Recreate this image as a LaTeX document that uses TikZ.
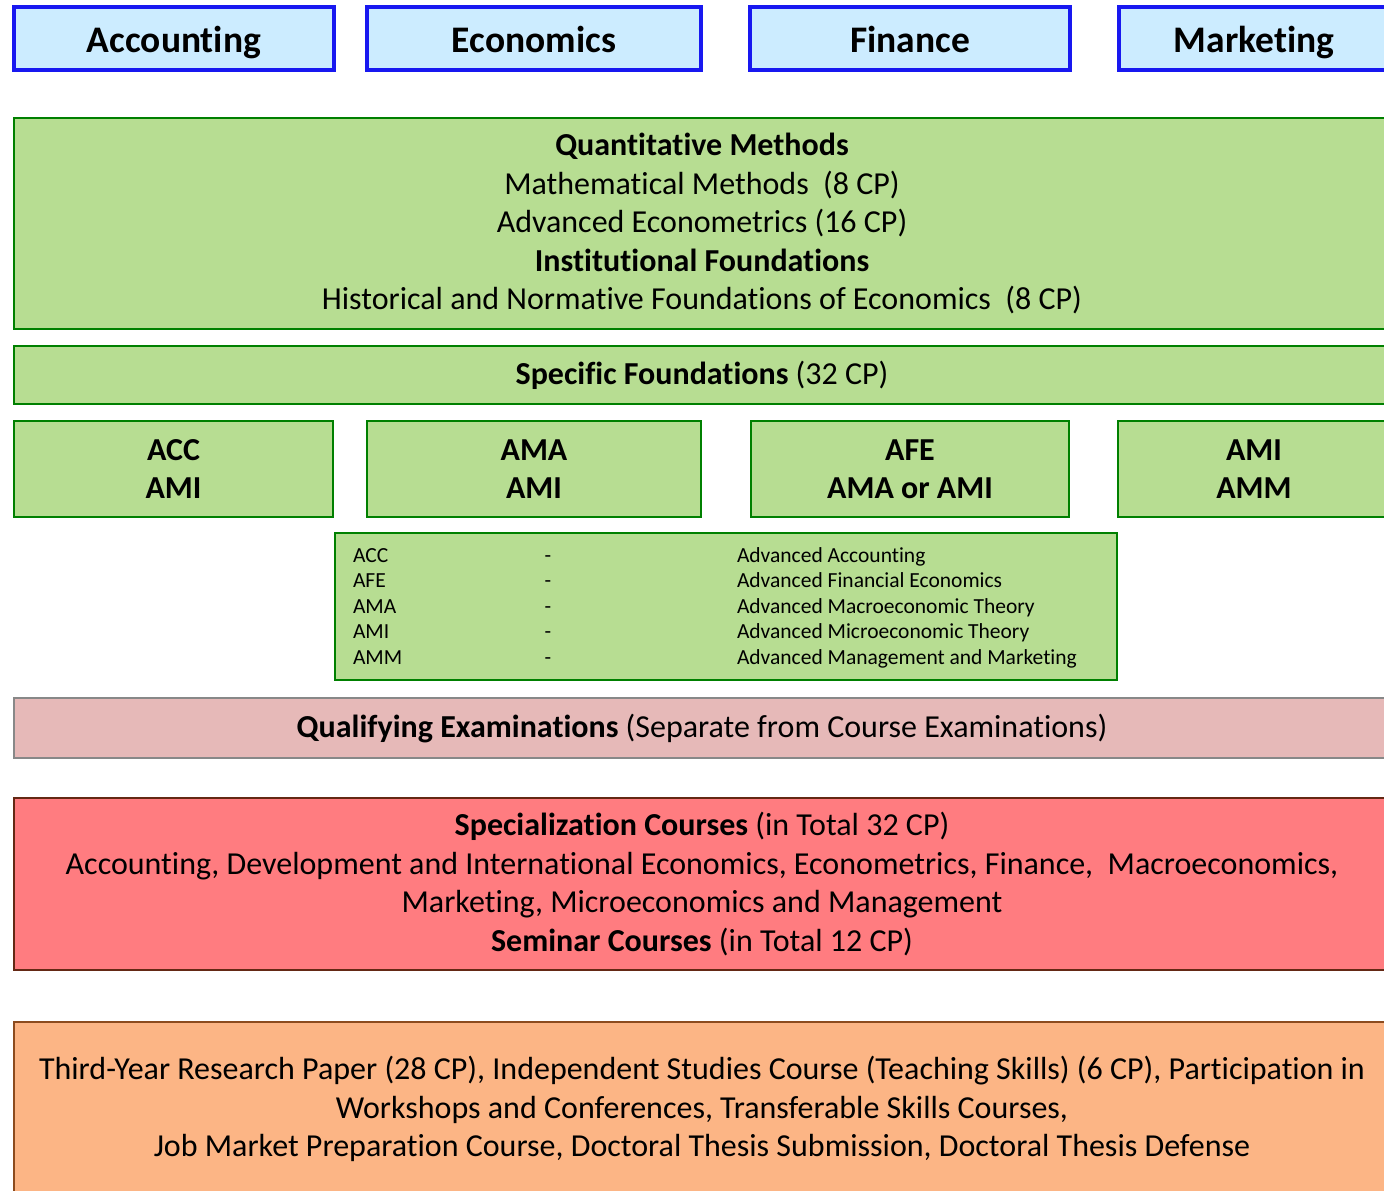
\documentclass[tikz,border=0pt]{standalone}
\usepackage{fontspec}
\setmainfont{Carlito}[Ligatures={NoCommon}]
\definecolor{topfill}{RGB}{204,236,255}
\definecolor{topline}{RGB}{24,24,240}
\definecolor{gfill}{RGB}{183,221,146}
\definecolor{gline}{RGB}{0,128,0}
\definecolor{pfill}{RGB}{230,185,184}
\definecolor{pline}{RGB}{136,136,136}
\definecolor{rfill}{RGB}{255,124,128}
\definecolor{rline}{RGB}{100,40,20}
\definecolor{ofill}{RGB}{252,181,133}
\definecolor{oline}{RGB}{140,75,30}
\begin{document}
\begin{tikzpicture}[x=1pt,y=-1pt,
  box/.style={draw, rectangle, inner sep=0pt, outer sep=0pt, align=center},
  topbox/.style={box, fill=topfill, draw=topline, line width=4pt, minimum height=63pt,
    text height=33.75pt, text depth=6.75pt,
    font=\fontsize{37.5}{42}\selectfont\bfseries},
  gbox/.style={box, fill=gfill, draw=gline, line width=1.6pt,
    font=\fontsize{32}{38.5}\selectfont},
  gsmall/.style={gbox, minimum height=96pt, font=\fontsize{32}{38}\selectfont\bfseries},
  pbox/.style={box, fill=pfill, draw=pline, line width=2.6pt, font=\fontsize{32}{38.5}\selectfont},
  rbox/.style={box, fill=rfill, draw=rline, line width=1.6pt, font=\fontsize{32}{38.5}\selectfont},
  obox/.style={box, fill=ofill, draw=oline, line width=1.6pt, font=\fontsize{32}{38.5}\selectfont},
  tabtext/.style={inner sep=0pt, outer sep=0pt, anchor=base west, font=\fontsize{21.5}{25}\selectfont},
  tabdash/.style={inner sep=0pt, outer sep=0pt, anchor=base, font=\fontsize{21.5}{25}\selectfont}
]
\useasboundingbox (0,0) rectangle (1384,1191);
\clip (0,0) rectangle (1384,1191);

% top department boxes
\node[topbox, minimum width=320pt] (acc) at (174,38.5) {Accounting};
\node[topbox, minimum width=334pt] (eco) at (534,38.5) {Economics};
\node[topbox, minimum width=320pt] (fin) at (910,38.5) {Finance};
\node[topbox, minimum width=270pt] (mkt) at (1254,38.5) {Marketing};

% quantitative / institutional foundations
\node[gbox, minimum width=1376pt, minimum height=211pt] (found) at (702,223.5)
  {\textbf{Quantitative Methods}\\
   Mathematical Methods~~(8 CP)\\
   Advanced Econometrics (16 CP)\\
   \textbf{Institutional Foundations}\\
   Historical and Normative Foundations of Economics~~(8 CP)};

% specific foundations
\node[gbox, minimum width=1376pt, minimum height=58pt] (spec) at (702,375)
  {\textbf{Specific Foundations} (32 CP)};

\node[gsmall, minimum width=319pt] (s1) at (173.5,469) {ACC\\AMI};
\node[gsmall, minimum width=334pt] (s2) at (534,469) {AMA\\AMI};
\node[gsmall, minimum width=318pt] (s3) at (910,469) {AFE\\AMA or AMI};
\node[gsmall, minimum width=272pt] (s4) at (1254,469) {AMI\\AMM};

% abbreviation table
\node[gbox, minimum width=782pt, minimum height=147pt] (tab) at (726,606.5) {};
\node[tabtext] (a1) at (353,562) {ACC};
\node[tabtext] (a2) at (353,587.5) {AFE};
\node[tabtext] (a3) at (353,613) {AMA};
\node[tabtext] (a4) at (353,638.5) {AMI};
\node[tabtext] (a5) at (353,664) {AMM};
\node[tabdash] (d1) at (548,562) {-};
\node[tabdash] (d2) at (548,587.5) {-};
\node[tabdash] (d3) at (548,613) {-};
\node[tabdash] (d4) at (548,638.5) {-};
\node[tabdash] (d5) at (548,664) {-};
\node[tabtext] (n1) at (737,562) {Advanced Accounting};
\node[tabtext] (n2) at (737,587.5) {Advanced Financial Economics};
\node[tabtext] (n3) at (737,613) {Advanced Macroeconomic Theory};
\node[tabtext] (n4) at (737,638.5) {Advanced Microeconomic Theory};
\node[tabtext] (n5) at (737,664) {Advanced Management and Marketing};

% qualifying examinations
\node[pbox, minimum width=1376pt, minimum height=60pt] (qual) at (702,728)
  {\textbf{Qualifying Examinations} (Separate from Course Examinations)};

% specialization
\node[rbox, minimum width=1376pt, minimum height=172pt] (specl) at (702,884)
  {\textbf{Specialization Courses} (in Total 32 CP)\\
   Accounting, Development and International Economics, Econometrics, Finance,~~Macroeconomics,\\
   Marketing, Microeconomics and Management\\
   \textbf{Seminar Courses} (in Total 12 CP)};

% final stage
\node[obox, minimum width=1376pt, minimum height=174pt] (final) at (702,1109)
  {Third-Year Research Paper (28 CP), Independent Studies Course (Teaching Skills) (6 CP), Participation in\\
   Workshops and Conferences, Transferable Skills Courses,\\
   Job Market Preparation Course, Doctoral Thesis Submission, Doctoral Thesis Defense};
\end{tikzpicture}
\end{document}
